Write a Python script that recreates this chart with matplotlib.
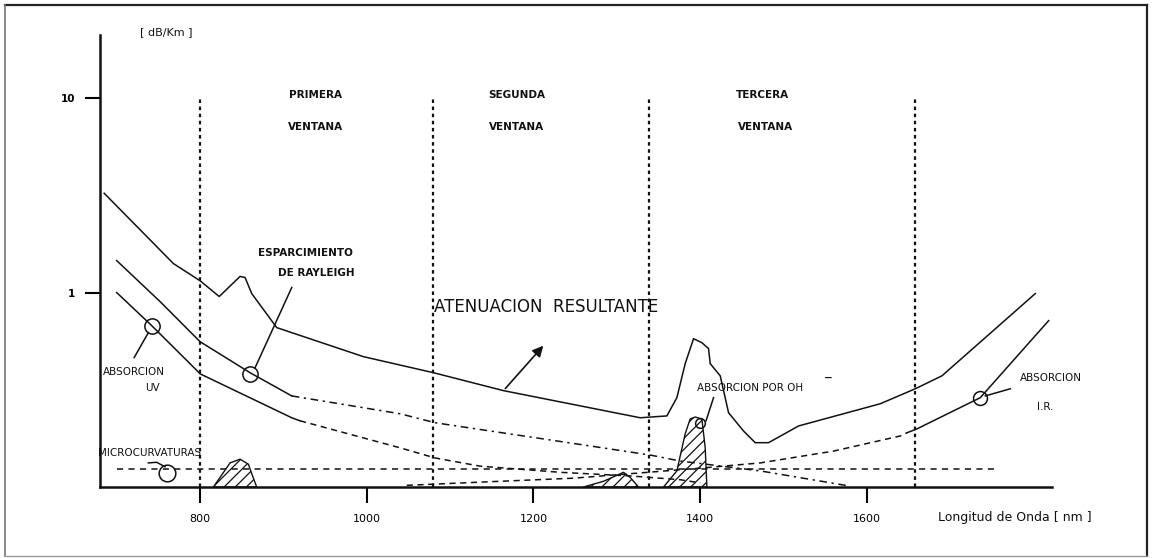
import matplotlib
matplotlib.use('Agg')
import matplotlib.pyplot as plt
from matplotlib.lines import Line2D
from matplotlib.ticker import NullLocator, FixedLocator

# ---------------- data (wavelength nm, attenuation dB/km) ----------------
total_nm = [685, 768, 800, 823, 848, 854, 862, 892, 996, 1080, 1164, 1328, 1360,
            1372, 1382, 1392, 1402, 1410, 1412, 1424, 1434, 1452, 1466, 1482, 1518,
            1616, 1658, 1690, 1802]
total_db = [3.24, 1.41, 1.15, 0.954, 1.21, 1.195, 0.988, 0.660, 0.468, 0.387, 0.313,
            0.227, 0.232, 0.288, 0.431, 0.579, 0.552, 0.515, 0.431, 0.373, 0.241,
            0.194, 0.169, 0.169, 0.206, 0.268, 0.320, 0.373, 0.988]

rayleigh_nm = [700, 752, 800, 860, 910]
rayleigh_db = [1.46, 0.899, 0.559, 0.387, 0.294]
rayleigh_ext_nm = [910, 1040, 1082, 1250, 1340, 1376, 1472, 1580]
rayleigh_ext_db = [0.294, 0.238, 0.214, 0.167, 0.146, 0.136, 0.121, 0.101]

uv_nm = [700, 742, 794, 800, 910, 920]
uv_db = [1.0, 0.676, 0.406, 0.382, 0.227, 0.219]
uv_ext_nm = [920, 1040, 1082, 1136, 1232, 1316, 1376, 1400]
uv_ext_db = [0.219, 0.159, 0.141, 0.128, 0.119, 0.114, 0.109, 0.105]

ir_ext_nm = [1048, 1160, 1248, 1400, 1472, 1560, 1640, 1648]
ir_ext_db = [0.102, 0.107, 0.111, 0.125, 0.133, 0.153, 0.183, 0.190]
ir_nm = [1648, 1660, 1728, 1736, 1818]
ir_db = [0.190, 0.199, 0.277, 0.288, 0.717]

micro_nm = [700, 1756]
micro_db = [0.124, 0.124]

peak1_nm = [816, 836, 848, 858, 864, 868]
peak1_db = [0.1, 0.133, 0.139, 0.131, 0.111, 0.1]
peak2_nm = [1260, 1284, 1308, 1316, 1326]
peak2_db = [0.1, 0.107, 0.119, 0.112, 0.1]
peak3_nm = [1356, 1372, 1382, 1388, 1394, 1402, 1406, 1408]
peak3_db = [0.1, 0.121, 0.188, 0.224, 0.229, 0.224, 0.159, 0.1]

windows_nm = [800, 1080, 1339, 1658]
window_top = 10
xticks = [800, 1000, 1200, 1400, 1600]
xtick_labels = ['800', '1000', '1200', '1400', '1600']
yticks = [1, 10]
ytick_labels = ['1', '10']

# marker circles (nm, dB/km)
circ_uv = (742, 0.676)
circ_ray = (860, 0.382)
circ_micro = (760, 0.118)
circ_ir = (1736, 0.288)
circ_oh = (1400, 0.214)

# ---------------- figure ----------------
W, H = 1153, 558
plt.rcParams['hatch.linewidth'] = 0.9
fig = plt.figure(figsize=(W / 100, H / 100), dpi=100)
fig.patch.set_facecolor('white')
ax = fig.add_axes([100 / W, 1 - 487 / H, (1052 - 100) / W, (487 - 35) / H])
ax.set_yscale('log')
ax.set_xlim(680, 1822)
ax.set_ylim(0.1, 21.1)
ax.set_facecolor('white')

for s in ['top', 'right']:
    ax.spines[s].set_visible(False)
for s in ['left', 'bottom']:
    ax.spines[s].set_linewidth(1.8)
    ax.spines[s].set_color('#111111')

ax.yaxis.set_major_locator(FixedLocator(yticks))
ax.yaxis.set_minor_locator(NullLocator())
ax.set_yticklabels(ytick_labels, fontsize=7.5, fontweight='bold')
ax.set_xticks(xticks)
ax.set_xticklabels(xtick_labels, fontsize=8)
ax.tick_params(axis='y', length=11, width=1.5, pad=7, direction='out')
ax.tick_params(axis='x', length=11.5, width=1.5, pad=8, direction='out')

lw = 1.1
k = '#111111'
# window separators
for w in windows_nm:
    ax.plot([w, w], [0.1, window_top], color=k, lw=1.6, ls=(0, (1.6, 1.6)), clip_on=False)

# curves
ax.plot(total_nm, total_db, color=k, lw=lw)
ax.plot(rayleigh_nm, rayleigh_db, color=k, lw=lw)
ax.plot(rayleigh_ext_nm, rayleigh_ext_db, color=k, lw=lw, ls=(0, (5, 3, 1.5, 3)))
ax.plot(uv_nm, uv_db, color=k, lw=lw)
ax.plot(uv_ext_nm, uv_ext_db, color=k, lw=lw, ls=(0, (4, 3)))
ax.plot(ir_ext_nm, ir_ext_db, color=k, lw=lw, ls=(0, (4, 3)))
ax.plot(ir_nm, ir_db, color=k, lw=lw)
ax.plot(micro_nm, micro_db, color=k, lw=lw, ls=(0, (4, 3.5)))

# hatched absorption peaks
for pn, pd in [(peak1_nm, peak1_db), (peak2_nm, peak2_db), (peak3_nm, peak3_db)]:
    ax.fill_between(pn, 0.1, pd, facecolor='none', edgecolor=k, hatch='///', linewidth=1.0)

# marker circles
for (cx, cy), ms in [(circ_uv, 11), (circ_ray, 11), (circ_micro, 12), (circ_ir, 10), (circ_oh, 7)]:
    ax.plot([cx], [cy], marker='o', ms=ms, mfc='none', mec=k, mew=1.1)

# leader lines
ax.plot([910, 866], [1.061, 0.410], color=k, lw=lw)          # Rayleigh
ax.plot([721, 738], [0.463, 0.622], color=k, lw=lw)          # UV
ax.plot([738, 748, 758], [0.133, 0.134, 0.127], color=k, lw=lw)  # microcurvaturas
ax.plot([1416, 1407], [0.288, 0.219], color=k, lw=lw)        # OH
ax.plot([1742, 1772], [0.294, 0.320], color=k, lw=lw)        # IR

# arrow for resulting attenuation
ax.annotate('', xy=(1214, 0.546), xytext=(1164, 0.313),
            arrowprops=dict(arrowstyle='-|>', color=k, lw=1.2, mutation_scale=16))

# ---------------- texts (figure pixel positions) ----------------
def ftext(x, y, s, size=7.5, weight='bold', ha='center'):
    fig.text(x / W, 1 - y / H, s, fontsize=size, fontweight=weight, ha=ha, va='center',
             color=k, family='DejaVu Sans')

ftext(166, 32, '[ dB/Km ]', 8, 'normal')
ftext(315, 95, 'PRIMERA')
ftext(316, 127, 'VENTANA')
ftext(517, 95, 'SEGUNDA')
ftext(517, 127, 'VENTANA')
ftext(762, 95, 'TERCERA')
ftext(766, 127, 'VENTANA')
ftext(305, 253, 'ESPARCIMIENTO')
ftext(316, 273, 'DE RAYLEIGH')
ftext(134, 372, 'ABSORCION', 7.5, 'normal')
ftext(152, 388, 'UV', 7.5, 'normal')
ftext(150, 453, 'MICROCURVATURAS', 7.5, 'normal')
ftext(546, 307, 'ATENUACION  RESULTANTE', 12, 'normal')
ftext(750, 388, 'ABSORCION POR OH', 7.5, 'normal')
ftext(828, 378, '−', 7.5, 'bold')
ftext(1051, 378, 'ABSORCION', 7.5, 'normal')
ftext(1045, 407, 'I.R.', 7.5, 'normal')
ftext(1015, 518, 'Longitud de Onda [ nm ]', 9, 'normal')

# ---------------- scanned page frame ----------------
def fline(xs, ys, c='#222222', w=1.6):
    fig.add_artist(Line2D([x / W for x in xs], [1 - y / H for y in ys],
                          transform=fig.transFigure, color=c, lw=w))

fline([5, 1147], [5, 5])
fline([1147, 1147], [5, 556])
fline([5, 5], [5, 556], '#777777', 1.2)
fline([5, 1147], [556, 556], '#999999', 1.0)

fig.savefig('out.png', dpi=100, facecolor='white')
